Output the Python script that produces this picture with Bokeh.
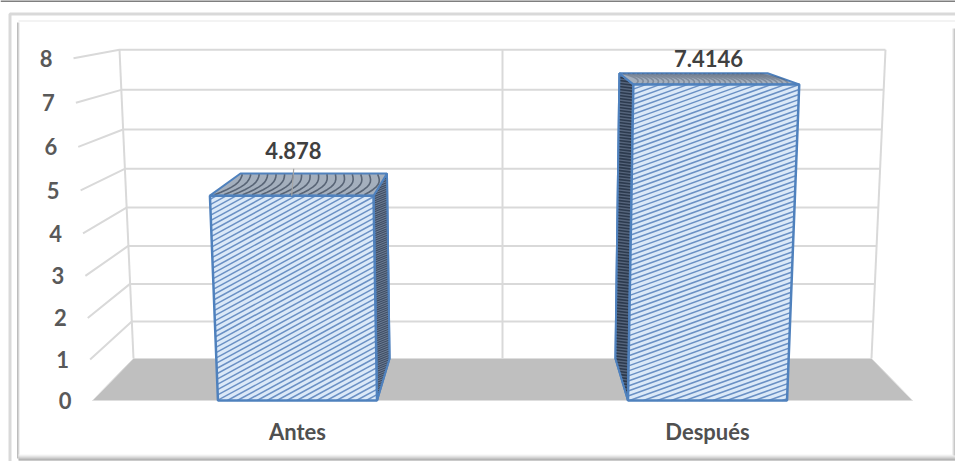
import numpy as np
from bokeh.core.properties import value
from bokeh.embed import file_html
from bokeh.models import Range1d
from bokeh.plotting import figure
from bokeh.resources import INLINE

# Chart content
categories = ["Antes", "Después"]
series_values = [4.878, 7.4146]
value_labels = ["4.878", "7.4146"]
y_ticks = [0, 1, 2, 3, 4, 5, 6, 7, 8]

BAR_WIDTH = 0.388
WIDTH, HEIGHT = 955, 461
FONT = value("Lato")
TEXT = "#404040"
GRID = "#d9d9d9"
BLUE = "#4f81bd"


def lerp(a, b, t):
    return a + (b - a) * t


def project(x, v, t):
    """Perspective view: x in category units (0-2), v the axis value, t depth (0 front, 1 wall)."""
    half = 410 * (1 - 0.1 * t)
    spread = 1 + lerp(0.00579, 0.00474, t) * v
    px = 502 + (x - 1) * half * spread
    py = lerp(400 - 40.8 * v / (1 - 0.0058 * v), 358 - 36.9 * v / (1 - 0.0055 * v), t)
    return px, py


def polygon(*corners):
    pts = [project(*c) for c in corners]
    return [p[0] for p in pts], [p[1] for p in pts]


def clip_line(p0, p1, xs, ys):
    """Cyrus-Beck clipping of a segment against a convex polygon."""
    p0, p1 = np.array(p0, float), np.array(p1, float)
    d = p1 - p0
    n = len(xs)
    cx, cy = np.mean(xs), np.mean(ys)
    t0, t1 = 0.0, 1.0
    for i in range(n):
        a = np.array([xs[i], ys[i]])
        b = np.array([xs[(i + 1) % n], ys[(i + 1) % n]])
        e = b - a
        normal = np.array([-e[1], e[0]])
        if normal @ (np.array([cx, cy]) - a) < 0:
            normal = -normal
        num = normal @ (p0 - a)
        den = normal @ d
        if abs(den) < 1e-9:
            if num < 0:
                return None
            continue
        hit = -num / den
        if den > 0:
            t0 = max(t0, hit)
        else:
            t1 = min(t1, hit)
    if t0 >= t1:
        return None
    return p0 + d * t0, p0 + d * t1


def hatch(xs, ys, slope, spacing):
    """Parallel rising lines clipped to a face; y grows downward on this canvas."""
    lo, hi = min(xs), max(xs)
    out_x, out_y = [], []
    start = min(ys) - 2 * abs(slope) * (hi - lo)
    for c in np.arange(start, max(ys) + 2 * abs(slope) * (hi - lo), spacing):
        seg = clip_line((lo - 5, c + slope * (hi - lo + 5)), (hi + 5, c), xs, ys)
        if seg is not None:
            out_x.append([seg[0][0], seg[1][0]])
            out_y.append([seg[0][1], seg[1][1]])
    return out_x, out_y


p = figure(width=WIDTH, height=HEIGHT, x_range=Range1d(0, WIDTH), y_range=Range1d(HEIGHT, 0),
           output_backend="svg", toolbar_location=None, min_border=0,
           background_fill_color="white", border_fill_color="white", outline_line_color=None)
p.axis.visible = False
p.grid.visible = False

# Bevelled frame round the chart
p.line([0, WIDTH], [0.5, 0.5], line_color="#7f7f7f", line_width=2)
p.line([9.5, 9.5, WIDTH], [HEIGHT, 13.5, 13.5], line_color="#d9d9d9", line_width=3)
p.line([18, WIDTH], [20.5, 20.5], line_color="#efefef", line_width=1.5)
for i, shade in enumerate(["#f0f0f0", "#d4d4d4", "#bdbdbd"]):
    p.line([19 - i, 19 - i], [22, 458], line_color=shade, line_width=1)
for i, shade in enumerate(["#f4f4f4", "#e6e6e6", "#d4d4d4", "#c0c0c0", "#aaaaaa", "#969696"]):
    p.line([18, WIDTH], [454.5 + i, 454.5 + i], line_color=shade, line_width=1)
for i, shade in enumerate(["#f0f0f0", "#dcdcdc", "#c8c8c8"]):
    p.line([952 + i, 952 + i], [28, 455], line_color=shade, line_width=1)

# Floor of the 3-D box
fx, fy = polygon((0, 0, 0), (2, 0, 0), (2, 0, 1), (0, 0, 1))
p.patch(fx, fy, fill_color="#bfbfbf", line_color="#dedede", line_width=1)

# Gridlines: wall verticals, then one bent line per tick across side wall and back wall
for x in [0, 1, 2]:
    wx, wy = polygon((x, 0, 1), (x, y_ticks[-1], 1))
    p.line(wx, wy, line_color=GRID, line_width=2)
for tick in y_ticks[1:]:
    lx, ly = polygon((0, tick, 0), (0, tick, 1), (2, tick, 1))
    p.line(lx, ly, line_color=GRID, line_width=2)

# Bars
side_style = [("#6f7f96", "#3d4c63", 2.2, 1.1), ("#56657c", "#2c3a4e", 3.0, 1.6)]
hatch_slope = [0.56, 0.37]
hatch_gap = [5.4, 5.0]
arc_count = [17, 30]
arc_alpha = [0.75, 0.35]

for i, (name, val) in enumerate(zip(categories, series_values)):
    c = i + 0.5
    x0, x1 = c - BAR_WIDTH / 2, c + BAR_WIDTH / 2
    side = x1 if c < 1 else x0

    sx, sy = polygon((side, 0, 0), (side, val, 0), (side, val, 1), (side, 0, 1))
    fill, ink, gap, lw = side_style[i]
    p.patch(sx, sy, fill_color=fill, line_color=BLUE, line_width=2)
    hx, hy = hatch(sx, sy, -0.15 if c > 1 else 0.5, gap)
    p.multi_line(hx, hy, line_color=ink, line_width=lw)
    p.patch(sx, sy, fill_alpha=0, line_color=BLUE, line_width=2)

    tx, ty = polygon((x0, val, 0), (x1, val, 0), (x1, val, 1), (x0, val, 1))
    p.patch(tx, ty, fill_color="#a4afbd", line_color=BLUE, line_width=2)
    arcs_x, arcs_y = [], []
    for s in np.linspace(0.04, 0.96, arc_count[i]):
        px_, py_ = [], []
        for depth in np.linspace(0.04, 0.96, 9):
            ax, ay = project(lerp(x0, x1, s) + (0.02 * np.sin(np.pi * depth) - 0.01), val, depth)
            px_.append(ax)
            py_.append(ay)
        arcs_x.append(px_)
        arcs_y.append(py_)
    p.multi_line(arcs_x, arcs_y, line_color="#3f4b5e", line_width=1.6, line_alpha=arc_alpha[i])

    bx, by = polygon((x0, 0, 0), (x1, 0, 0), (x1, val, 0), (x0, val, 0))
    p.patch(bx, by, fill_color="#dbe9f8", line_color=None)
    hx, hy = hatch(bx, by, hatch_slope[i], hatch_gap[i])
    p.multi_line(hx, hy, line_color="#6a90c4", line_width=1.5)
    p.patch(bx, by, fill_alpha=0, line_color=BLUE, line_width=2.5)

# Leader from the first value label down to its bar
lead_bottom = project(0.5, series_values[0], 0)
p.line([lead_bottom[0] + 2, lead_bottom[0]], [lead_bottom[1] - 27, lead_bottom[1]],
       line_color="#a6a6a6", line_width=1.2)

# Tick labels sit to the left of the front edge of the side wall
tick_pos = [project(0, t, 0) for t in y_ticks]
p.text([q[0] - 21 for q in tick_pos], [q[1] for q in tick_pos], text=[str(t) for t in y_ticks],
       text_font=FONT, text_font_style="bold", text_font_size="22px", text_color="#595959",
       text_align="right", text_baseline="middle")

# Category labels under the floor
cat_x = [project(i + 0.5, 0, 0)[0] for i in range(len(categories))]
p.text(cat_x, [431, 431], text=categories, text_font=FONT, text_font_style="bold",
       text_font_size="22px", text_color="#505050", text_align="center", text_baseline="middle")

# Value labels above each bar
label_shift = [-4, 1]
lab_x, lab_y = [], []
for i, val in enumerate(series_values):
    qx = project(i + 0.5, 0, 0)[0]
    qy = project(i + 0.5, val, 1)[1]
    lab_x.append(qx + label_shift[i])
    lab_y.append(qy - 23 if i == 0 else qy - 15)
p.text(lab_x, lab_y, text=value_labels, text_font=FONT, text_font_style="bold",
       text_font_size="22px", text_color=TEXT, text_align="center", text_baseline="middle")

open("out.html", "w").write(file_html(p, INLINE))
